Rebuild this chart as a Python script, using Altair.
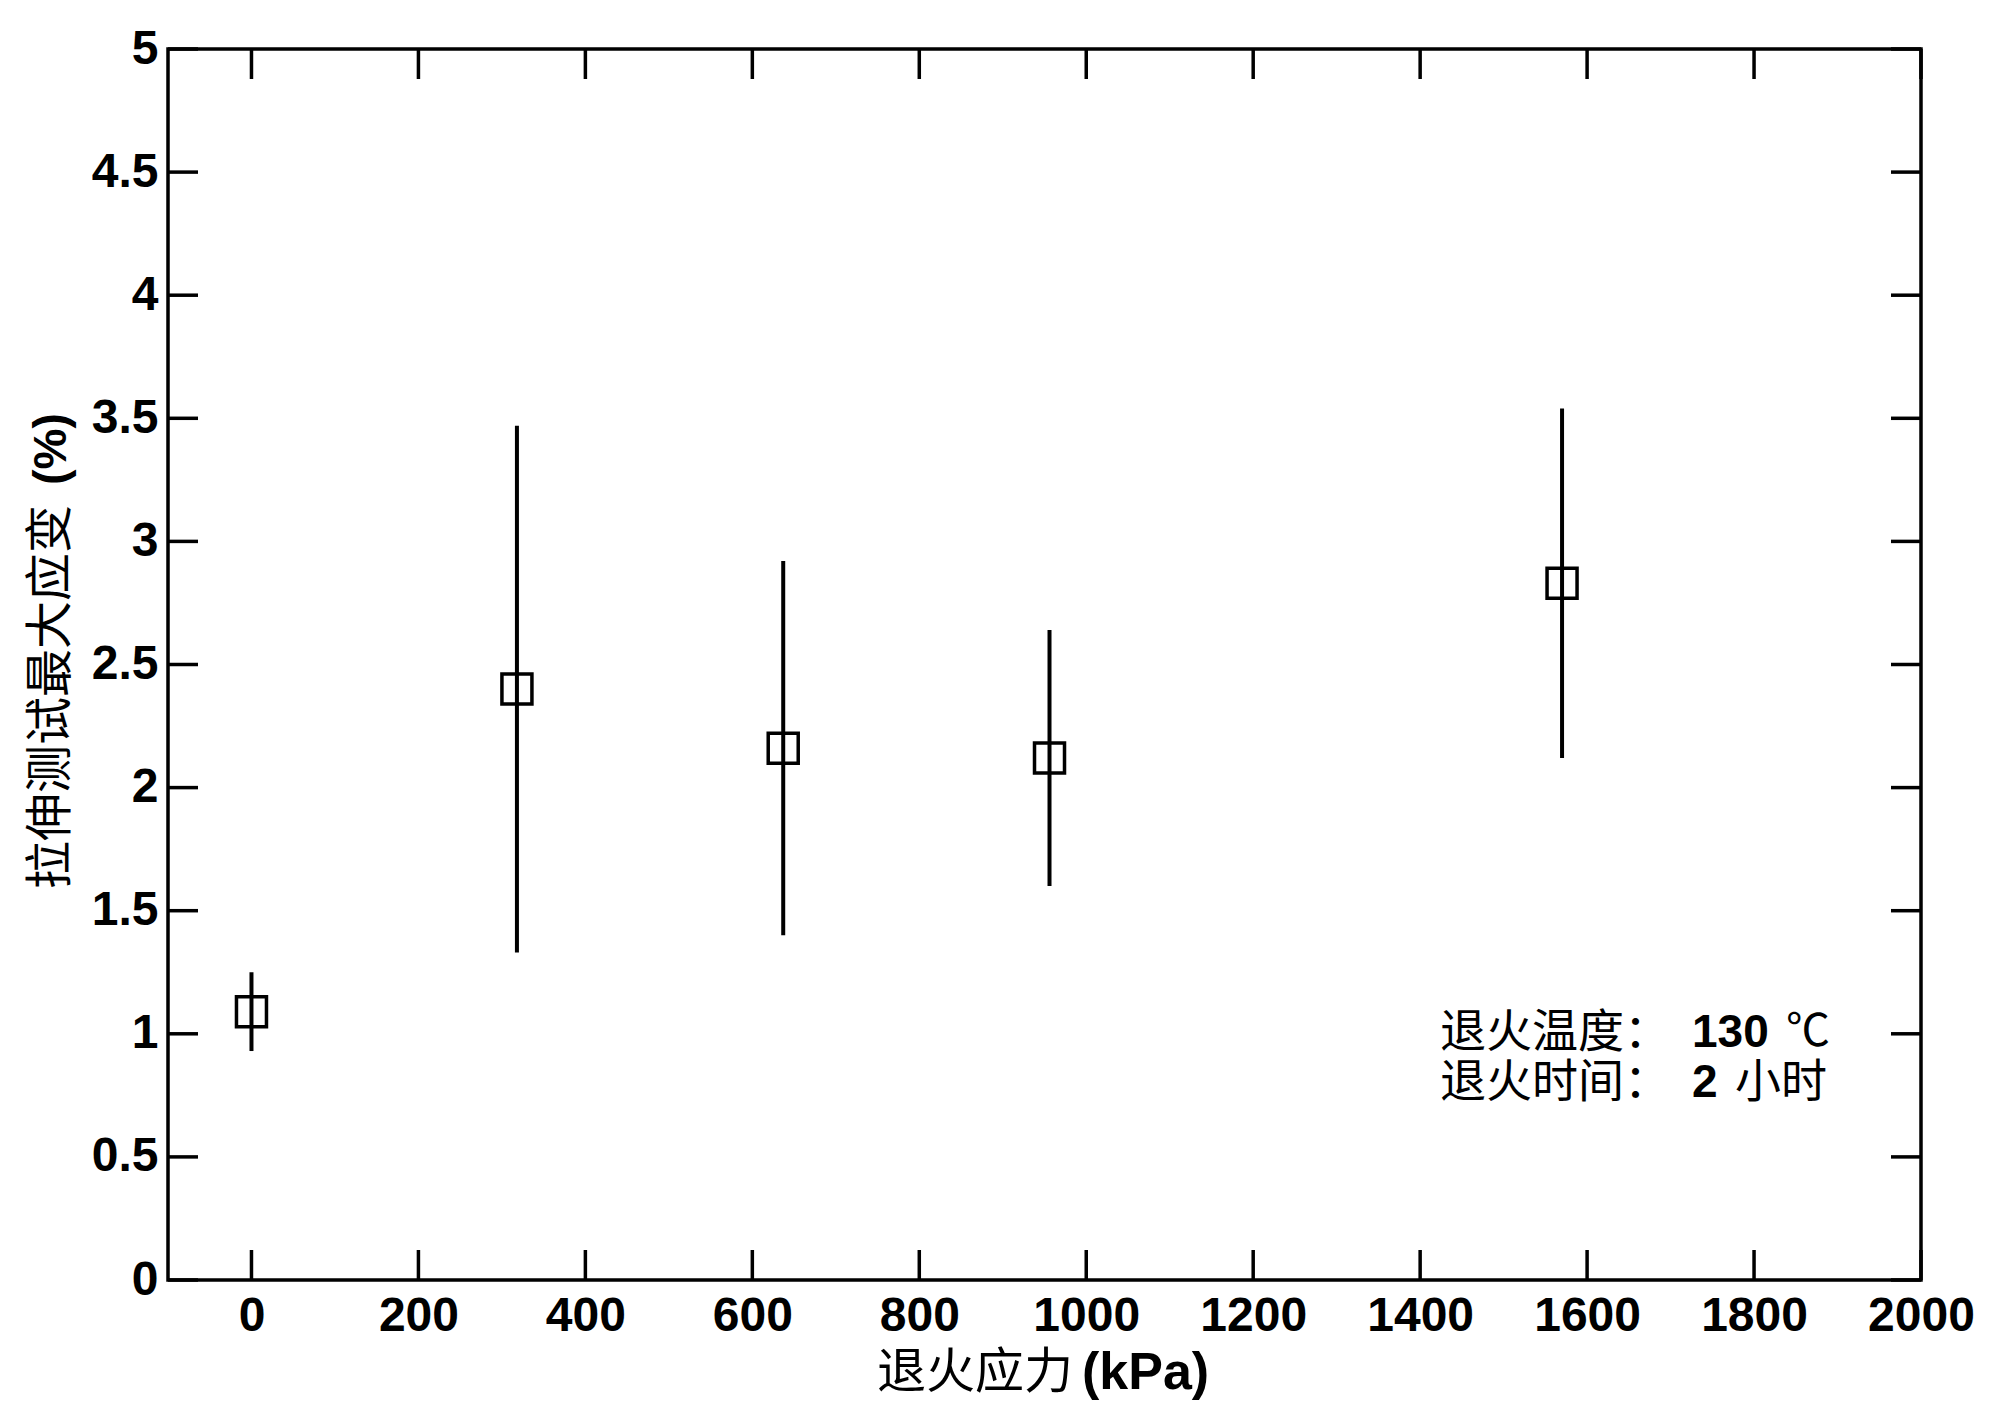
import altair as alt
import pandas as pd

# Data
stress_kpa = [0, 318, 637, 956, 1570]
strain_mean = [1.09, 2.40, 2.16, 2.12, 2.83]
strain_low = [0.93, 1.33, 1.40, 1.60, 2.12]
strain_high = [1.25, 3.47, 2.92, 2.64, 3.54]

x_ticks = [0, 200, 400, 600, 800, 1000, 1200, 1400, 1600, 1800, 2000]
y_ticks = [0, 0.5, 1, 1.5, 2, 2.5, 3, 3.5, 4, 4.5, 5]

x_title_cn = ["退火应力"]
x_title_unit = ["(kPa)"]
y_title_cn = ["拉伸测试最大应变"]
y_title_unit = ["(%)"]
note1 = ["退火温度：", "130", "℃"]
note2 = ["退火时间：", "2", "小时"]

W, H = 1753, 1231
TICK = 30
CN_FONT = "Noto Sans CJK SC"
LAT_FONT = "Liberation Sans"

df = pd.DataFrame({"x": stress_kpa, "y": strain_mean, "lo": strain_low, "hi": strain_high})
xt = pd.DataFrame({"v": x_ticks})
yt = pd.DataFrame({"v": y_ticks})

xscale = alt.Scale(domain=[-100, 2000], nice=False, zero=False)
yscale = alt.Scale(domain=[0, 5], nice=False, zero=False)

xaxis = alt.Axis(values=x_ticks, ticks=False, domain=False, grid=False, title=None,
                 labelFont=LAT_FONT, labelFontWeight="bold", labelFontSize=48,
                 labelColor="black", labelPadding=12, format="d", labelFlush=False)
yaxis = alt.Axis(values=y_ticks, ticks=False, domain=False, grid=False, title=None,
                 labelFont=LAT_FONT, labelFontWeight="bold", labelFontSize=48,
                 labelColor="black", labelPadding=10, format="~g", labelFlush=False)

base = alt.Chart(df)

bars = base.mark_rule(color="black", strokeWidth=4).encode(
    x=alt.X("x:Q", scale=xscale, axis=xaxis),
    y=alt.Y("lo:Q", scale=yscale, axis=yaxis),
    y2="hi:Q",
)
pts = base.mark_point(shape="square", filled=False, size=900, strokeWidth=3.5,
                      color="black", opacity=1).encode(
    x=alt.X("x:Q", scale=xscale),
    y=alt.Y("y:Q", scale=yscale),
)

bottom_ticks = alt.Chart(xt).mark_rule(color="black", strokeWidth=3.5).encode(
    x=alt.X("v:Q", scale=xscale), y=alt.value(H), y2=alt.value(H - TICK))
top_ticks = alt.Chart(xt).mark_rule(color="black", strokeWidth=3.5).encode(
    x=alt.X("v:Q", scale=xscale), y=alt.value(0), y2=alt.value(TICK))
left_ticks = alt.Chart(yt).mark_rule(color="black", strokeWidth=3.5).encode(
    y=alt.Y("v:Q", scale=yscale), x=alt.value(0), x2=alt.value(TICK))
right_ticks = alt.Chart(yt).mark_rule(color="black", strokeWidth=3.5).encode(
    y=alt.Y("v:Q", scale=yscale), x=alt.value(W), x2=alt.value(W - TICK))


def txt(label, x, y, font, weight="normal", size=48, align="left", angle=0):
    return alt.Chart(pd.DataFrame({"t": [label]})).mark_text(
        font=font, fontWeight=weight, fontSize=size, align=align,
        baseline="middle", angle=angle, color="black").encode(
        text="t:N", x=alt.value(x), y=alt.value(y))


texts = [
    txt(x_title_cn[0], 905, 1324, CN_FONT, size=49, align="right"),
    txt(x_title_unit[0], 914, 1324, LAT_FONT, weight="bold", size=52),
    txt(y_title_cn[0], -116, 648, CN_FONT, align="center", angle=270),
    txt(y_title_unit[0], -116, 400, LAT_FONT, weight="bold", size=46, align="center", angle=270),
    txt(note1[0], 1272, 984, CN_FONT, size=46),
    txt(note1[1], 1524, 984, LAT_FONT, weight="bold", size=46),
    txt(note1[2], 1618, 984, CN_FONT, size=44),
    txt(note2[0], 1272, 1034, CN_FONT, size=46),
    txt(note2[1], 1524, 1034, LAT_FONT, weight="bold", size=46),
    txt(note2[2], 1567, 1034, CN_FONT, size=46),
]

chart = alt.layer(bars, pts, bottom_ticks, top_ticks, left_ticks, right_ticks, *texts).properties(
    width=W, height=H,
    autosize=alt.AutoSizeParams(type="none"),
    padding={"left": 160, "top": 41, "right": 60, "bottom": 126},
    background="white",
).configure_view(stroke="black", strokeWidth=3.5)

chart.save("out.html", embed_options={"renderer": "svg", "actions": False})
